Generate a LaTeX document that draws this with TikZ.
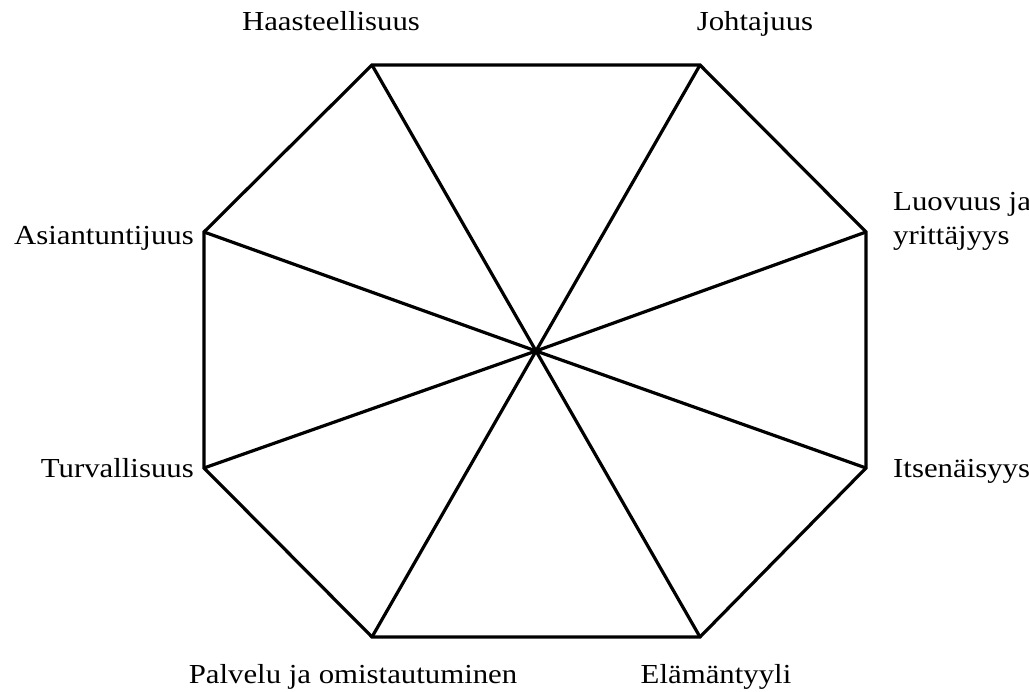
\documentclass[tikz,border=0pt]{standalone}
\usepackage{fontspec}
\setmainfont{Liberation Serif}[FakeStretch=1.12]
\begin{document}
\begin{tikzpicture}[x=1pt,y=-1pt,
  edge/.style={line width=3.2pt,line join=miter},
  lbl/.style={inner sep=0pt,font=\fontsize{27.5}{34}\selectfont}]
\useasboundingbox (0,0) rectangle (1029,692);
% octagon corners
\coordinate (v1) at (372,65);
\coordinate (v2) at (700,65);
\coordinate (v3) at (866,232);
\coordinate (v4) at (866,468);
\coordinate (v5) at (700,637);
\coordinate (v6) at (372,637);
\coordinate (v7) at (204,468);
\coordinate (v8) at (204,232);
\coordinate (c) at (536,351);
\draw[edge] (v1) -- (v2) -- (v3) -- (v4) -- (v5) -- (v6) -- (v7) -- (v8) -- cycle;
\foreach \i in {1,...,8} \draw[edge] (c) -- (v\i);
% labels
\node[lbl,anchor=base] (l1) at (331,31) {Haasteellisuus};
\node[lbl,anchor=base] (l2) at (755,31) {Johtajuus};
\node[lbl,anchor=base west,align=left] (l3) at (893,245) {Luovuus ja\\yrittäjyys};
\node[lbl,anchor=base west] (l4) at (893,478) {Itsenäisyys};
\node[lbl,anchor=base] (l5) at (716,683) {Elämäntyyli};
\node[lbl,anchor=base] (l6) at (353,683) {Palvelu ja omistautuminen};
\node[lbl,anchor=base east] (l7) at (194,478) {Turvallisuus};
\node[lbl,anchor=base east] (l8) at (194,245) {Asiantuntijuus};
\end{tikzpicture}
\end{document}
